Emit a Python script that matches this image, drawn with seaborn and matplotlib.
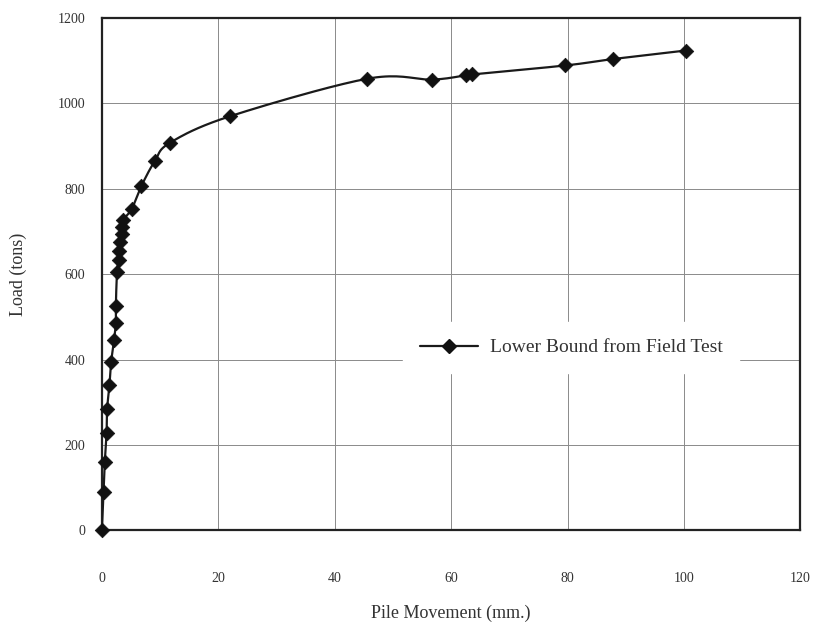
import numpy as np
import pandas as pd
import seaborn as sns
import matplotlib.pyplot as plt
from matplotlib.lines import Line2D

# DATA
PILE_MOVEMENT_MM = [0, 0.3, 0.5, 0.8, 0.9, 1.3, 1.6, 2.1, 2.4, 2.4, 2.6, 2.9, 3.0, 3.1,
                    3.4, 3.5, 3.7, 5.1, 6.8, 9.1, 11.7, 22.0, 45.6, 56.7, 62.5, 63.6,
                    79.6, 87.8, 100.3]
LOAD_TONS = [0, 91, 160, 227, 284, 340, 395, 447, 486, 525, 605, 634, 655, 676,
             695, 710, 728, 752, 807, 865, 908, 970, 1058, 1056, 1066, 1068,
             1089, 1104, 1124]
X_TICKS = [0, 20, 40, 60, 80, 100, 120]
Y_TICKS = [0, 200, 400, 600, 800, 1000, 1200]
SERIES_NAME = "Lower Bound from Field Test"


def smooth_curve(x, y, steps=20):
    # Catmull-Rom pass through the points, like the spreadsheet's smoothed line
    pts = np.column_stack([x, y]).astype(float)
    pts = np.vstack([pts[0], pts, pts[-1]])
    out = []
    for i in range(1, len(pts) - 2):
        p0, p1, p2, p3 = pts[i - 1], pts[i], pts[i + 1], pts[i + 2]
        for t in np.linspace(0, 1, steps, endpoint=False):
            t2, t3 = t * t, t * t * t
            out.append(0.5 * ((2 * p1) + (-p0 + p2) * t
                              + (2 * p0 - 5 * p1 + 4 * p2 - p3) * t2
                              + (-p0 + 3 * p1 - 3 * p2 + p3) * t3))
    out.append(pts[-2])
    out = np.array(out)
    return out[:, 0], out[:, 1]


def main():
    sns.set_style("white")
    plt.rcParams['font.family'] = ['Liberation Serif', 'DejaVu Serif']

    df = pd.DataFrame({"movement": PILE_MOVEMENT_MM, "load": LOAD_TONS})
    sx, sy = smooth_curve(df["movement"], df["load"])
    curve = pd.DataFrame({"movement": sx, "load": sy})

    fig = plt.figure(figsize=(8.15, 6.24), dpi=100)
    ax = fig.add_axes([0.125, 0.150, 0.857, 0.821])

    sns.lineplot(data=curve, x="movement", y="load", sort=False, estimator=None,
                 color="#1a1a1a", linewidth=1.6, ax=ax, zorder=3)
    sns.scatterplot(data=df, x="movement", y="load", marker="D", s=55,
                    color="#111111", edgecolor="#111111", linewidth=0.5,
                    ax=ax, zorder=4, clip_on=False)

    ax.set_xlim(0, 120)
    ax.set_ylim(0, 1200)
    ax.set_xticks(X_TICKS)
    ax.set_yticks(Y_TICKS)
    ax.grid(True, color="#8a8a8a", linewidth=0.7)
    ax.set_axisbelow(True)
    for spine in ax.spines.values():
        spine.set_color("#222222")
        spine.set_linewidth(1.6)

    ax.tick_params(axis="x", length=0, pad=30, labelsize=10, colors="#333333")
    ax.tick_params(axis="y", length=0, pad=12, labelsize=10, colors="#333333")
    ax.set_xlabel("Pile Movement (mm.)", fontsize=13, color="#333333", labelpad=14)
    ax.set_ylabel("Load (tons)", fontsize=13, color="#333333", labelpad=22)

    handle = Line2D([], [], color="#1a1a1a", linewidth=1.6, marker="D",
                    markersize=7, markerfacecolor="#111111", markeredgecolor="#111111")
    leg = ax.legend([handle], [SERIES_NAME], loc="center",
                    bbox_to_anchor=(0.672, 0.357), frameon=True, fontsize=14,
                    handlelength=3.0, handletextpad=0.6, borderpad=0.55,
                    borderaxespad=0)
    leg.get_frame().set_edgecolor("white")
    leg.get_frame().set_facecolor("white")
    leg.get_frame().set_alpha(1)
    leg.get_frame().set_boxstyle("square")
    for txt in leg.get_texts():
        txt.set_color("#333333")

    fig.savefig("out.png", dpi=100)
    plt.close(fig)


if __name__ == "__main__":
    main()
